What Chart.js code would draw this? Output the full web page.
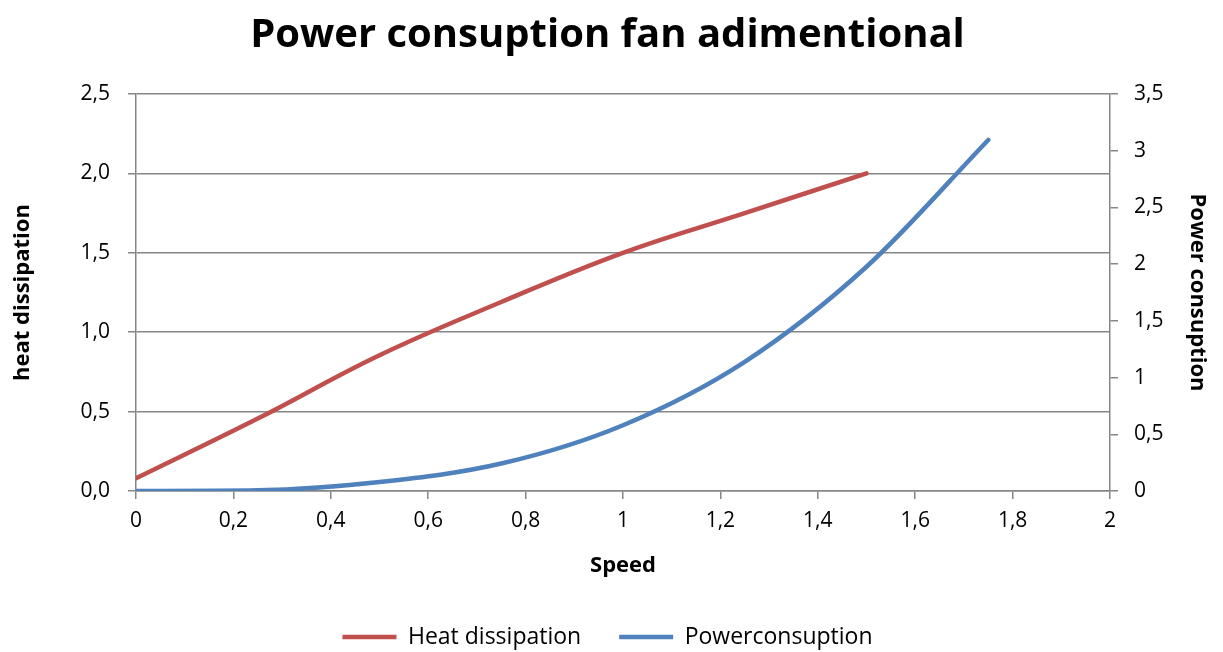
<!DOCTYPE html>
<html>
<head>
<meta charset="utf-8">
<title>Power consuption fan adimentional</title>
<script src="https://cdn.jsdelivr.net/npm/chart.js@4/dist/chart.umd.min.js"></script>
<style>
  html, body { margin: 0; padding: 0; background: #ffffff; }
  #wrap { width: 1223px; height: 652px; position: relative; }
</style>
</head>
<body>
<div id="wrap"><canvas id="chart" width="1223" height="652"></canvas></div>
<script>
// Fan speed (adimensional) at each sample
const speed = [0, 0.25, 0.5, 0.75, 1.0, 1.25, 1.5, 1.75];
// Heat dissipation, left axis (sampled up to speed 1.5)
const heatDissipation = [0.08, 0.456, 0.855, 1.19, 1.5, 1.75, 2.0];
// Power consumption, right axis
const powerConsuption = [0, 0.006, 0.079, 0.242, 0.58, 1.139, 1.977, 3.095];

const xTicks = [0, 0.2, 0.4, 0.6, 0.8, 1, 1.2, 1.4, 1.6, 1.8, 2];
const leftTicks = [0, 0.5, 1, 1.5, 2, 2.5];
const rightTicks = [0, 0.5, 1, 1.5, 2, 2.5, 3, 3.5];

const FONT = "'Open Sans', 'Liberation Sans', sans-serif";
const GRID = '#868686';
const RED = '#C0504D';
const BLUE = '#4F81BD';

const toPoints = (ys) => ys.map((y, i) => ({ x: speed[i], y }));
const comma = (v) => String(Math.round(v * 10) / 10).replace('.', ',');
const fixedTicks = (list) => (scale) => { scale.ticks = list.map(v => ({ value: v })); };

new Chart(document.getElementById('chart'), {
  type: 'line',
  data: {
    datasets: [
      {
        label: 'Heat dissipation',
        data: toPoints(heatDissipation),
        yAxisID: 'y',
        borderColor: RED,
        backgroundColor: RED,
        borderWidth: 4.5,
        borderCapStyle: 'round',
        pointRadius: 0,
        tension: 0.4
      },
      {
        label: 'Powerconsuption',
        data: toPoints(powerConsuption),
        yAxisID: 'y2',
        borderColor: BLUE,
        backgroundColor: BLUE,
        borderWidth: 4.5,
        borderCapStyle: 'round',
        pointRadius: 0,
        cubicInterpolationMode: 'monotone'
      }
    ]
  },
  options: {
    responsive: false,
    animation: false,
    layout: { padding: { left: 0, right: 8, top: 0, bottom: -6.5 } },
    plugins: {
      tooltip: { enabled: false },
      title: {
        display: true,
        text: 'Power consuption fan adimentional',
        color: '#000',
        font: { family: FONT, size: 40, weight: 'bold' },
        padding: { top: 11.6, bottom: 34.4 }
      },
      legend: {
        position: 'bottom',
        labels: {
          usePointStyle: true,
          pointStyle: 'line',
          pointStyleWidth: 54,
          color: '#000',
          font: { family: FONT, size: 23 },
          padding: 38
        }
      }
    },
    scales: {
      x: {
        type: 'linear',
        min: 0, max: 2,
        afterBuildTicks: fixedTicks(xTicks),
        afterFit: (s) => { s.height = 96.5; },
        border: { color: GRID, width: 1.5 },
        grid: { drawOnChartArea: false, color: GRID, lineWidth: 1.5, tickLength: 8 },
        ticks: { color: '#000', font: { family: FONT, size: 21 }, padding: 9, maxRotation: 0, callback: (v) => comma(v) },
        title: { display: true, text: 'Speed', color: '#000', font: { family: FONT, size: 22, weight: 'bold' }, padding: { top: 0, bottom: 8.3 } }
      },
      y: {
        position: 'left',
        min: 0, max: 2.5,
        afterBuildTicks: fixedTicks(leftTicks),
        afterFit: (s) => { s.width = 136; },
        border: { color: GRID, width: 1.5 },
        grid: { color: GRID, lineWidth: 1.5, tickLength: 8 },
        ticks: { color: '#000', font: { family: FONT, size: 21 }, padding: 18, callback: (v) => v.toFixed(1).replace('.', ',') },
        title: { display: true, text: 'heat dissipation', color: '#000', font: { family: FONT, size: 22, weight: 'bold' }, padding: { top: 10, bottom: 0 } }
      },
      y2: {
        position: 'right',
        min: 0, max: 3.5,
        afterBuildTicks: fixedTicks(rightTicks),
        afterFit: (s) => { s.width = 105; },
        border: { color: GRID, width: 1.5 },
        grid: { drawOnChartArea: false, color: GRID, lineWidth: 1.5, tickLength: 8 },
        ticks: { color: '#000', font: { family: FONT, size: 21 }, padding: 16, callback: (v) => comma(v) },
        title: { display: true, text: 'Power consuption', color: '#000', font: { family: FONT, size: 22, weight: 'bold' }, padding: { top: 4.8, bottom: 0 } }
      }
    }
  }
});
</script>
</body>
</html>
